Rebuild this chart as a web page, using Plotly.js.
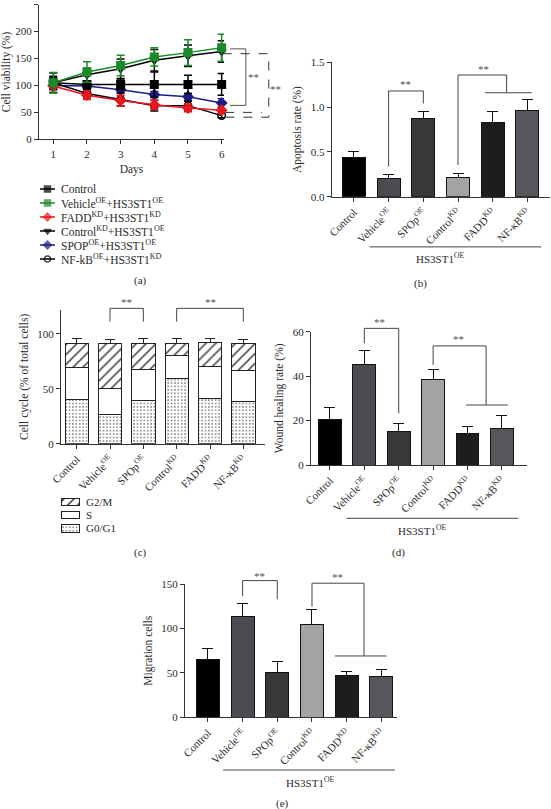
<!DOCTYPE html>
<html><head><meta charset="utf-8">
<script src="https://cdn.plot.ly/plotly-3.0.1.min.js"></script>
<style>body{margin:0;background:#fff}#g{width:551px;height:809px}</style>
</head><body><div id="g"></div>
<script>
// ---------- DATA ----------
const days = [1, 2, 3, 4, 5, 6];
const lineNames = ['Control', 'Vehicle<sup>OE</sup>+HS3ST1<sup>OE</sup>', 'FADD<sup>KD</sup>+HS3ST1<sup>KD</sup>',
  'Control<sup>KD</sup>+HS3ST1<sup>OE</sup>', 'SPOP<sup>OE</sup>+HS3ST1<sup>OE</sup>', 'NF-kB<sup>OE</sup>+HS3ST1<sup>KD</sup>'];
const viabControl = [105, 102, 102, 102, 102, 102];
const viabControlErr = [12, 6, 10, 23, 17, 20];
const viabVehicle = [105, 125, 137, 153, 161, 170];
const viabVehicleErr = [19, 19, 19, 17, 24, 25];
const viabFADD = [99, 82, 72, 64, 58, 54];
const viabFADDErr = [12, 8, 10, 8, 7, 6];
const viabControlKD = [105, 120, 131, 147, 155, 163];
const viabControlKDErr = [18, 12, 18, 20, 20, 20];
const viabSPOP = [100, 99, 92, 83, 79, 67.5];
const viabSPOPErr = [8, 5, 6, 6, 6, 8];
const viabNFkB = [105, 85, 74, 62.5, 62.5, 44];
const viabNFkBErr = [10, 8, 12, 10, 8, 4];

const groups = ['Control', 'Vehicle<sup>OE</sup>', 'SPOp<sup>OE</sup>', 'Control<sup>KD</sup>', 'FADD<sup>KD</sup>', 'NF-κB<sup>KD</sup>'];
const apoptosis = [0.44, 0.20, 0.875, 0.215, 0.83, 0.96];
const apoptosisErr = [0.06, 0.05, 0.08, 0.04, 0.12, 0.13];

const phaseNames = ['G2/M', 'S', 'G0/G1'];
const g0g1 = [40, 26.4, 39, 59.7, 41.5, 38];
const g0g1Err = [6.7, 6, 6, 6.1, 6.1, 6];
const sPhase = [28.8, 23.6, 28.3, 20.6, 28.8, 28.4];
const sPhaseErr = [5.4, 5.2, 6, 4.2, 4.5, 6];
const g2m = [22.7, 41.5, 24.2, 11.2, 21.8, 24.5];
const g2mErr = [4.5, 3, 4, 4.5, 3.4, 3.6];

const wound = [20.7, 45.2, 15, 38.7, 14.4, 16.5];
const woundErr = [5.2, 6.5, 3.7, 4.3, 3.1, 5.7];

const migration = [65.3, 112.9, 49.9, 104.6, 47.6, 45.8];
const migrationErr = [12.3, 15.4, 12.7, 16.2, 4.5, 7.5];

// ---------- STYLE / LAYOUT ----------
const W = 551, H = 809;
const SERIF = 'Liberation Serif';
const TXT = '#2a2a2a';
const barColors = ['#000000', '#4c4b52', '#383838', '#a3a3a3', '#1d1d1d', '#57565c'];
const PAN = {
  a: {xd: [39, 224], xr: [0.575, 6.07], yd: [4.7, 139.3], yr: [0, 250]},
  b: {xd: [331.7, 550], xr: [-0.64, 5.65], yd: [62.3, 196.7], yr: [0, 1.5]},
  c: {xd: [61, 265], xr: [-0.47, 5.65], yd: [310, 443.7], yr: [0, 121.5]},
  d: {xd: [311, 526.7], xr: [-0.55, 5.72], yd: [331.7, 465], yr: [0, 60]},
  e: {xd: [185, 397], xr: [-0.66, 5.45], yd: [584, 717.3], yr: [0, 150]},
  la: {xd: [38, 220], xr: [0, 182], yd: [182, 266], yr: [6, 0]},
  lc: {xd: [58, 140], xr: [0, 82], yd: [495, 535], yr: [3, 0]}
};
const dom = k => ({x: [PAN[k].xd[0] / W, PAN[k].xd[1] / W], y: [1 - PAN[k].yd[1] / H, 1 - PAN[k].yd[0] / H]});
function PX(k, v) { const c = PAN[k]; return (c.xd[0] + (v - c.xr[0]) / (c.xr[1] - c.xr[0]) * (c.xd[1] - c.xd[0])) / W; }
function PY(k, v) { const c = PAN[k]; return 1 - (c.yd[1] - (v - c.yr[0]) / (c.yr[1] - c.yr[0]) * (c.yd[1] - c.yd[0])) / H; }
const pyP = p => 1 - p / H;

const axBase = {showline: true, linecolor: '#333', linewidth: 1, ticks: 'outside', ticklen: 4, tickwidth: 1,
  tickcolor: '#333', showgrid: false, zeroline: false, fixedrange: true,
  tickfont: {family: SERIF, size: 11, color: TXT}};
const titleFont = {family: SERIF, size: 11.5, color: TXT};
const hidden = {visible: false, showgrid: false, zeroline: false, fixedrange: true};

const traces = [];
// (a) line chart
const lineSeries = [
  {y: viabControl, e: viabControlErr, c: '#000000', s: 'square'},
  {y: viabVehicle, e: viabVehicleErr, c: '#1b8a2a', s: 'square'},
  {y: viabFADD, e: viabFADDErr, c: '#e8161e', s: 'diamond'},
  {y: viabControlKD, e: viabControlKDErr, c: '#000000', s: 'triangle-down'},
  {y: viabSPOP, e: viabSPOPErr, c: '#1c1c86', s: 'diamond'},
  {y: viabNFkB, e: viabNFkBErr, c: '#000000', s: 'circle-open'}
];
const drawOrder = [4, 0, 5, 2, 3, 1];
drawOrder.forEach(i => {
  const s = lineSeries[i];
  traces.push({type: 'scatter', mode: 'lines+markers', x: days, y: s.y, xaxis: 'x', yaxis: 'y', name: lineNames[i],
    line: {color: s.c, width: 1.5}, marker: {symbol: s.s, size: 7.5, color: s.c, line: {color: s.c, width: 1.5}},
    error_y: {type: 'data', array: s.e, visible: true, color: s.c, thickness: 1.5, width: 4}, cliponaxis: false, hoverinfo: 'skip'});
});
// (a) legend keys
lineSeries.forEach((s, i) => {
  traces.push({type: 'scatter', mode: 'lines+markers', x: [2, 9.5, 17], y: [i + 0.5, i + 0.5, i + 0.5], xaxis: 'x6', yaxis: 'y6',
    line: {color: s.c, width: 1.5}, marker: {symbol: s.s, size: [0, 6, 0], color: s.c, line: {color: s.c, width: 1.5}},
    cliponaxis: false, hoverinfo: 'skip', showlegend: false});
});

function barTrace(vals, errs, xa, ya) {
  return {type: 'bar', x: groups, y: vals, xaxis: xa, yaxis: ya, width: 0.66,
    marker: {color: barColors, line: {color: '#111', width: 1}},
    error_y: {type: 'data', symmetric: false, array: errs, arrayminus: errs.map(() => 0), color: '#111', thickness: 1, width: 5.5},
    hoverinfo: 'skip'};
}
traces.push(barTrace(apoptosis, apoptosisErr, 'x2', 'y2'));
traces.push(barTrace(wound, woundErr, 'x4', 'y4'));
traces.push(barTrace(migration, migrationErr, 'x5', 'y5'));

// (c) stacked cell cycle
const patt = {
  'G0/G1': {shape: '.', fgcolor: '#777', bgcolor: '#ffffff', size: 3.4, solidity: 0.2},
  'S': {shape: '', fgcolor: '#000', bgcolor: '#ffffff'},
  'G2/M': {shape: '/', fgcolor: '#222', bgcolor: '#ffffff', size: 7, solidity: 0.18}
};
const stack = [['G0/G1', g0g1, g0g1Err], ['S', sPhase, sPhaseErr], ['G2/M', g2m, g2mErr]];
stack.forEach(([nm, v, e]) => {
  traces.push({type: 'bar', x: groups, y: v, xaxis: 'x3', yaxis: 'y3', width: 0.7, name: nm,
    marker: {color: '#ffffff', pattern: patt[nm], line: {color: '#222', width: 1}},
    error_y: {type: 'data', symmetric: false, array: e, arrayminus: e.map(() => 0), color: '#222', thickness: 1, width: 5},
    hoverinfo: 'skip'});
});
// (c) legend keys
phaseNames.forEach((nm, i) => {
  traces.push({type: 'bar', orientation: 'h', base: 3, x: [18], y: [i + 0.5], xaxis: 'x7', yaxis: 'y7', width: 0.55,
    marker: {color: '#ffffff', pattern: patt[nm], line: {color: '#222', width: 1}}, hoverinfo: 'skip', showlegend: false});
});

// ---------- shapes & annotations ----------
const shapes = [], ann = [];
const LC = '#444';
function path(pts, color, dash, w) {
  shapes.push({type: 'path', xref: 'paper', yref: 'paper', path: 'M' + pts.map(p => p[0] + ',' + p[1]).join('L'),
    line: {color: color || LC, width: w || 1, dash: dash || 'solid'}});
}
function bracket(k, x1, x2, top, y1, y2) {
  path([[PX(k, x1), PY(k, y1)], [PX(k, x1), PY(k, top)], [PX(k, x2), PY(k, top)], [PX(k, x2), PY(k, y2)]]);
}
function hline(k, x1, x2, y) { path([[PX(k, x1), PY(k, y)], [PX(k, x2), PY(k, y)]]); }
function stars(k, x, y) {
  ann.push({xref: 'paper', yref: 'paper', x: PX(k, x), y: PY(k, y), text: '**', showarrow: false,
    font: {family: SERIF, size: 11, color: '#505050'}, xanchor: 'center', yanchor: 'middle'});
}
function txt(x, y, t, size, extra) {
  ann.push(Object.assign({xref: 'paper', yref: 'paper', x: x, y: y, text: t, showarrow: false,
    font: {family: SERIF, size: size || 11, color: TXT}, xanchor: 'center', yanchor: 'middle'}, extra || {}));
}

// (a) significance
path([[PX('a', 6.25), PY('a', 168)], [PX('a', 6.72), PY('a', 168)], [PX('a', 6.72), PY('a', 63)], [PX('a', 6.25), PY('a', 63)]], '#555');
path([[PX('a', 6.03), PY('a', 159)], [PX('a', 7.4), PY('a', 159)], [PX('a', 7.4), PY('a', 41)], [PX('a', 6.03), PY('a', 41)]], '#333', 'dash');
path([[PX('a', 6.1), PY('a', 50)], [PX('a', 7.2), PY('a', 50)]], '#333', 'dash');
stars('a', 6.95, 116);
stars('a', 7.6, 93);

// (b)
bracket('b', 1, 2, 1.18, 0.335, 1.04); stars('b', 1.5, 1.26);
bracket('b', 3, 4.4, 1.358, 0.354, 1.16); hline('b', 3.78, 5.12, 1.16); stars('b', 3.72, 1.43);
hline('b', 0.45, 5.4, -0.56);
txt(PX('b', 2.48), pyP(258), 'HS3ST1<sup>OE</sup>');
txt(420 / W, pyP(283), '(b)');

// (c)
bracket('c', 1, 2, 123, 110.9, 110.9); stars('c', 1.5, 128.5);
bracket('c', 3, 5, 123, 110.9, 110.9); stars('c', 4, 128.5);
phaseNames.forEach((nm, i) => {
  ann.push({xref: 'x7', yref: 'y7', x: 26, y: i + 0.5, text: nm, showarrow: false, xanchor: 'left', yanchor: 'middle',
    font: {family: SERIF, size: 11, color: TXT}});
});
txt(140 / W, pyP(552), '(c)');

// (d)
bracket('d', 1, 2, 61.5, 54.8, 23.3); stars('d', 1.45, 64.5);
bracket('d', 3, 4.54, 53.6, 45, 27); hline('d', 3.96, 5.17, 27); stars('d', 3.75, 56.5);
path([[PX('d', 0.48), pyP(518.3)], [PX('d', 5.48), pyP(518.3)]]);
txt(PX('d', 2.69), pyP(530), 'HS3ST1<sup>OE</sup>');
txt(398 / W, pyP(552), '(d)');

// (e)
bracket('e', 1, 2, 153.8, 136.5, 132.8); stars('e', 1.5, 159);
bracket('e', 3, 4.5, 150.9, 124.6, 69); hline('e', 3.66, 5.15, 69); stars('e', 3.73, 158);
path([[PX('e', 0.44), pyP(770)], [PX('e', 5.39), pyP(770)]]);
txt(PX('e', 2.94), pyP(781.7), 'HS3ST1<sup>OE</sup>');
txt(282 / W, pyP(803), '(e)');

// (a) legend text & label
lineNames.forEach((nm, i) => {
  ann.push({xref: 'x6', yref: 'y6', x: 21, y: i + 0.5, text: nm, showarrow: false, xanchor: 'left', yanchor: 'middle',
    font: {family: SERIF, size: 11.5, color: TXT}});
});
txt(140 / W, pyP(281), '(a)');

const catAxis = (k, ya) => Object.assign({}, axBase, {domain: dom(k).x, range: PAN[k].xr, type: 'category', anchor: ya,
  tickangle: -45, categoryorder: 'array', categoryarray: groups});

const layout = {
  width: W, height: H, margin: {l: 0, r: 0, t: 0, b: 0}, paper_bgcolor: '#fff', plot_bgcolor: 'rgba(0,0,0,0)',
  showlegend: false, barmode: 'stack', font: {family: SERIF, color: TXT},
  xaxis: Object.assign({}, axBase, {domain: dom('a').x, range: PAN.a.xr, anchor: 'y', tickvals: days,
    title: {text: 'Days', font: titleFont, standoff: 6}}),
  yaxis: Object.assign({}, axBase, {domain: dom('a').y, range: PAN.a.yr, anchor: 'x', dtick: 50,
    title: {text: 'Cell viability (%)', font: titleFont, standoff: 4}}),
  xaxis2: catAxis('b', 'y2'),
  yaxis2: Object.assign({}, axBase, {domain: dom('b').y, range: PAN.b.yr, anchor: 'x2', dtick: 0.5, tickformat: '.1f',
    title: {text: 'Apoptosis rate (%)', font: titleFont, standoff: 6}}),
  xaxis3: catAxis('c', 'y3'),
  yaxis3: Object.assign({}, axBase, {domain: dom('c').y, range: PAN.c.yr, anchor: 'x3', tickvals: [0, 50, 100],
    title: {text: 'Cell cycle (% of total cells)', font: titleFont, standoff: 6}}),
  xaxis4: catAxis('d', 'y4'),
  yaxis4: Object.assign({}, axBase, {domain: dom('d').y, range: PAN.d.yr, anchor: 'x4', dtick: 20,
    title: {text: 'Wound healing rate (%)', font: titleFont, standoff: 6}}),
  xaxis5: catAxis('e', 'y5'),
  yaxis5: Object.assign({}, axBase, {domain: dom('e').y, range: PAN.e.yr, anchor: 'x5', dtick: 50,
    title: {text: 'Migration cells', font: titleFont, standoff: 6}}),
  xaxis6: Object.assign({}, hidden, {domain: dom('la').x, range: PAN.la.xr, anchor: 'y6'}),
  yaxis6: Object.assign({}, hidden, {domain: dom('la').y, range: PAN.la.yr, anchor: 'x6'}),
  xaxis7: Object.assign({}, hidden, {domain: dom('lc').x, range: PAN.lc.xr, anchor: 'y7'}),
  yaxis7: Object.assign({}, hidden, {domain: dom('lc').y, range: PAN.lc.yr, anchor: 'x7'}),
  shapes: shapes, annotations: ann
};
Plotly.newPlot('g', traces, layout, {staticPlot: true, displayModeBar: false});
</script></body></html>
